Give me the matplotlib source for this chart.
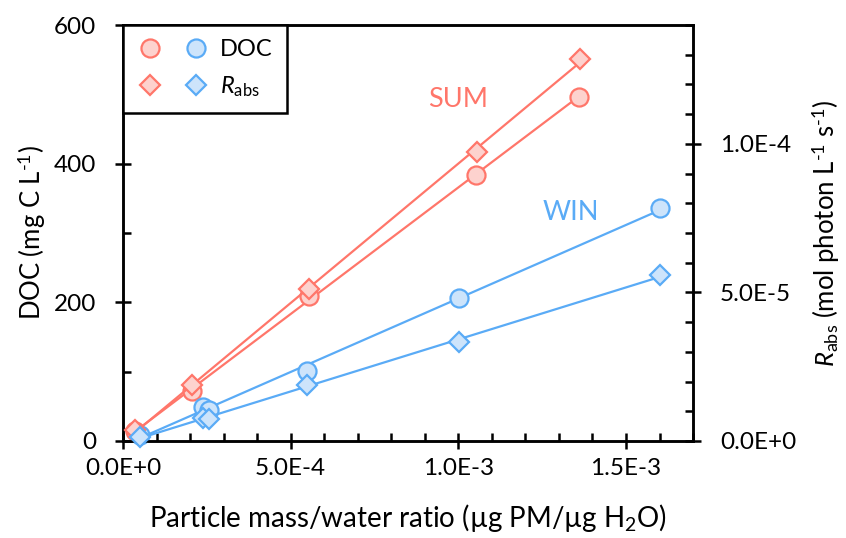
import numpy as np
import matplotlib
matplotlib.use("Agg")
import matplotlib.pyplot as plt
from matplotlib.ticker import FuncFormatter, MultipleLocator
from matplotlib.lines import Line2D
from matplotlib.legend_handler import HandlerTuple

plt.rcParams['font.family'] = ['Lato', 'DejaVu Sans']
plt.rcParams['mathtext.fontset'] = 'custom'
plt.rcParams['mathtext.rm'] = 'Lato'
plt.rcParams['mathtext.it'] = 'Lato:italic'

# summer samples
sum_x = [3.6e-5, 2.07e-4, 5.54e-4, 1.054e-3, 1.359e-3]
sum_doc = [14, 72, 209, 384, 496]
sum_x_r = [3.6e-5, 2.07e-4, 5.56e-4, 1.057e-3, 1.362e-3]
sum_rabs = [3.7e-6, 1.89e-5, 5.1e-5, 9.73e-5, 1.287e-4]

# winter samples
win_x = [5.1e-5, 2.4e-4, 2.57e-4, 5.48e-4, 1.003e-3, 1.602e-3]
win_doc = [9, 49, 45, 101, 206, 336]
win_rabs = [1.4e-6, 7.8e-6, 7.4e-6, 1.89e-5, 3.34e-5, 5.57e-5]

red, red_fill = '#FF766A', '#FDD2CE'
blue, blue_fill = '#5AABF6', '#CDE4FB'


def sci(v, pos):
    m, e = f"{v:.1E}".split('E')
    return f"{m}E{int(e):+d}"


def fit_line(ax, x, y, color):
    k, b = np.polyfit(x, y, 1)
    xs = np.array([min(x), max(x)])
    ax.plot(xs, k * xs + b, color=color, lw=1.6, zorder=2)


fig = plt.figure(figsize=(8.46, 5.38), dpi=100)
ax = fig.add_axes([0.1454, 0.1803, 0.6738, 0.7732])
ax2 = ax.twinx()

fit_line(ax, sum_x, sum_doc, red)
fit_line(ax, win_x, win_doc, blue)
fit_line(ax2, sum_x_r, sum_rabs, red)
fit_line(ax2, win_x, win_rabs, blue)

ms_c, ms_d = 13, 10
mk = dict(ls='none', mew=1.6, clip_on=False, zorder=3)
ax.plot(sum_x, sum_doc, 'o', ms=ms_c, color=red, mfc=red_fill, **mk)
ax.plot(win_x, win_doc, 'o', ms=ms_c, color=blue, mfc=blue_fill, **mk)
ax2.plot(sum_x_r, sum_rabs, 'D', ms=ms_d, color=red, mfc=red_fill, **mk)
ax2.plot(win_x, win_rabs, 'D', ms=ms_d, color=blue, mfc=blue_fill, **mk)

ax.set_xlim(0, 1.7e-3)
ax.set_ylim(0, 600)
ax2.set_ylim(0, 1.4e-4)

ax.xaxis.set_major_locator(MultipleLocator(5e-4))
ax.xaxis.set_minor_locator(MultipleLocator(1e-4))
ax.xaxis.set_major_formatter(FuncFormatter(sci))
ax.yaxis.set_major_locator(MultipleLocator(200))
ax.yaxis.set_minor_locator(MultipleLocator(100))
ax2.yaxis.set_major_locator(MultipleLocator(5e-5))
ax2.yaxis.set_minor_locator(MultipleLocator(1e-5))
ax2.yaxis.set_major_formatter(FuncFormatter(sci))
ax2.yaxis.get_offset_text().set_visible(False)

for a in (ax, ax2):
    for s in a.spines.values():
        s.set_linewidth(1.8)
    a.tick_params(which='major', direction='inout', length=11, width=1.8,
                  labelsize=17.5, pad=14)
    a.tick_params(which='minor', direction='in', length=6, width=1.8)
ax.tick_params(axis='x', which='major', pad=7)
ax.tick_params(axis='y', which='both', right=False)
ax.tick_params(axis='x', which='both', top=False)

ax.set_xlabel('Particle mass/water ratio (µg PM/µg H$_2$O)', fontsize=20, labelpad=16)
ax.set_ylabel('DOC (mg C L$^{\\text{-}1}$)', fontsize=18.5, labelpad=4)
ax2.set_ylabel('$R_{\\mathrm{abs}}$ (mol photon L$^{\\text{-}1}$ s$^{\\text{-}1}$)',
               fontsize=18.5, labelpad=10)

ax.text(9.1e-4, 492, 'SUM', color=red, fontsize=19.5, va='center')
ax.text(1.25e-3, 330, 'WIN', color=blue, fontsize=19.5, va='center')

h_doc = (Line2D([], [], marker='o', ls='none', ms=ms_c, mew=1.6, color=red, mfc=red_fill),
         Line2D([], [], marker='o', ls='none', ms=ms_c, mew=1.6, color=blue, mfc=blue_fill))
h_rabs = (Line2D([], [], marker='D', ls='none', ms=ms_d, mew=1.6, color=red, mfc=red_fill),
          Line2D([], [], marker='D', ls='none', ms=ms_d, mew=1.6, color=blue, mfc=blue_fill))
leg = ax2.legend([h_doc, h_rabs], ['DOC', '$R_{\\mathrm{abs}}$'],
                 handler_map={tuple: HandlerTuple(ndivide=None, pad=0.9)},
                 loc='upper left', bbox_to_anchor=(0, 1), borderaxespad=0,
                 fontsize=17, handlelength=3.0, handletextpad=0.5,
                 fancybox=False, framealpha=1, edgecolor='black',
                 borderpad=0.6, labelspacing=0.6)
leg.get_frame().set_linewidth(1.8)

fig.savefig('out.png', dpi=100)
